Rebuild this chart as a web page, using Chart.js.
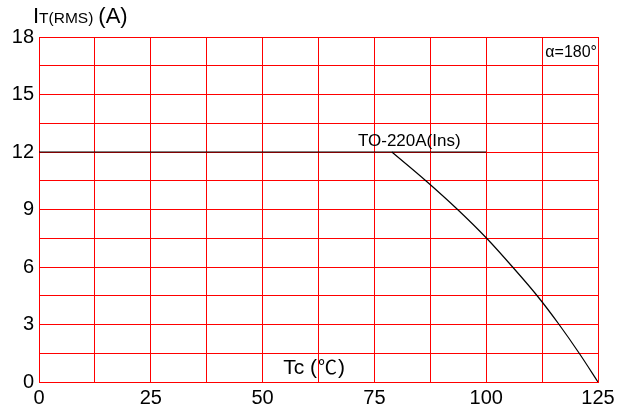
<!DOCTYPE html>
<html><head><meta charset="utf-8">
<script src="https://cdn.jsdelivr.net/npm/chart.js@4.4.0/dist/chart.umd.min.js"></script>
<style>html,body{margin:0;padding:0;background:#fff;}canvas{display:block;}</style>
</head><body>
<canvas id="c" width="628" height="410"></canvas>
<script>
const curveX = [78.9, 86.5, 93.6, 100.1, 105.9, 111.4, 116.3, 120.8, 125];
const curveY = [12, 10.5, 9, 7.5, 6, 4.5, 3, 1.5, 0];
const flatX = [0, 100];
const flatY = [12, 12];
const xTickLabels = [0, 25, 50, 75, 100, 125];
const yTickLabels = [0, 3, 6, 9, 12, 15, 18];
const curveLabel = 'TO-220A(Ins)';
const angleLabel = 'α=180°';

const FONT = '"Liberation Sans", Arial, sans-serif';
const CJK = '"Noto Sans CJK SC", sans-serif';

const textPlugin = {
  id: 'texts',
  afterDraw(chart) {
    const ctx = chart.ctx;
    const xs = chart.scales.x, ys = chart.scales.y;
    ctx.save();
    ctx.fillStyle = '#000';
    ctx.textBaseline = 'alphabetic';
    // y title
    ctx.textAlign = 'left';
    let x = 33;
    const by = 23;
    ctx.font = '22px ' + FONT;
    ctx.fillText('I', x, by); x += ctx.measureText('I').width;
    ctx.font = '15.5px ' + FONT;
    ctx.fillText('T(RMS)', x, by); x += ctx.measureText('T(RMS)').width + 5;
    ctx.font = '22px ' + FONT;
    ctx.fillText('(A)', x, by);
    // alpha
    ctx.font = '16px ' + FONT;
    ctx.textAlign = 'right';
    ctx.fillText(angleLabel, xs.getPixelForValue(125) - 1, 57);
    // curve label
    ctx.textAlign = 'center';
    ctx.font = '17px ' + FONT;
    ctx.fillText(curveLabel, xs.getPixelForValue(82.8), ys.getPixelForValue(12.3));
    // x title
    ctx.textAlign = 'left';
    x = xs.getPixelForValue(54.6);
    const bx = 374;
    ctx.font = '21px ' + FONT;
    ctx.fillText('Tc (', x, bx); x += ctx.measureText('Tc (').width + 1;
    ctx.font = '19px ' + CJK;
    ctx.fillText('℃', x, bx); x += ctx.measureText('℃').width + 1;
    ctx.font = '21px ' + FONT;
    ctx.fillText(')', x, bx);
    ctx.restore();
  }
};

new Chart(document.getElementById('c'), {
  type: 'line',
  data: {
    datasets: [
      { data: flatX.map((v, i) => ({x: v, y: flatY[i]})), borderColor: '#000', borderWidth: 1.2, pointRadius: 0, tension: 0 },
      { data: curveX.map((v, i) => ({x: v, y: curveY[i]})), borderColor: '#000', borderWidth: 1.2, pointRadius: 0, cubicInterpolationMode: 'monotone' }
    ]
  },
  options: {
    responsive: false,
    animation: false,
    devicePixelRatio: 1,
    layout: { padding: { top: 37, right: 30, left: 0, bottom: 0 } },
    plugins: { legend: { display: false }, tooltip: { enabled: false } },
    scales: {
      x: {
        type: 'linear', min: 0, max: 125,
        afterBuildTicks(s) { const t = []; for (let v = 0; v <= 125; v += 12.5) t.push({value: v}); s.ticks = t; },
        afterFit(s) { s.height = 28; },
        ticks: {
          autoSkip: false, maxRotation: 0, padding: 4, color: '#000',
          font: { size: 20, family: FONT },
          callback: v => xTickLabels.includes(v) ? String(v) : ''
        },
        grid: { color: '#ff0000', lineWidth: 1, drawTicks: false },
        border: { color: '#ff0000', width: 1 }
      },
      y: {
        type: 'linear', min: 0, max: 18,
        afterBuildTicks(s) { const t = []; for (let v = 0; v <= 18; v += 1.5) t.push({value: v}); s.ticks = t; },
        afterFit(s) { s.width = 39; },
        ticks: {
          autoSkip: false, padding: 5, color: '#000',
          font: { size: 20, family: FONT },
          callback: v => yTickLabels.includes(v) ? String(v) : ''
        },
        grid: { color: '#ff0000', lineWidth: 1, drawTicks: false },
        border: { color: '#ff0000', width: 1 }
      }
    }
  },
  plugins: [textPlugin]
});
</script>
</body></html>
